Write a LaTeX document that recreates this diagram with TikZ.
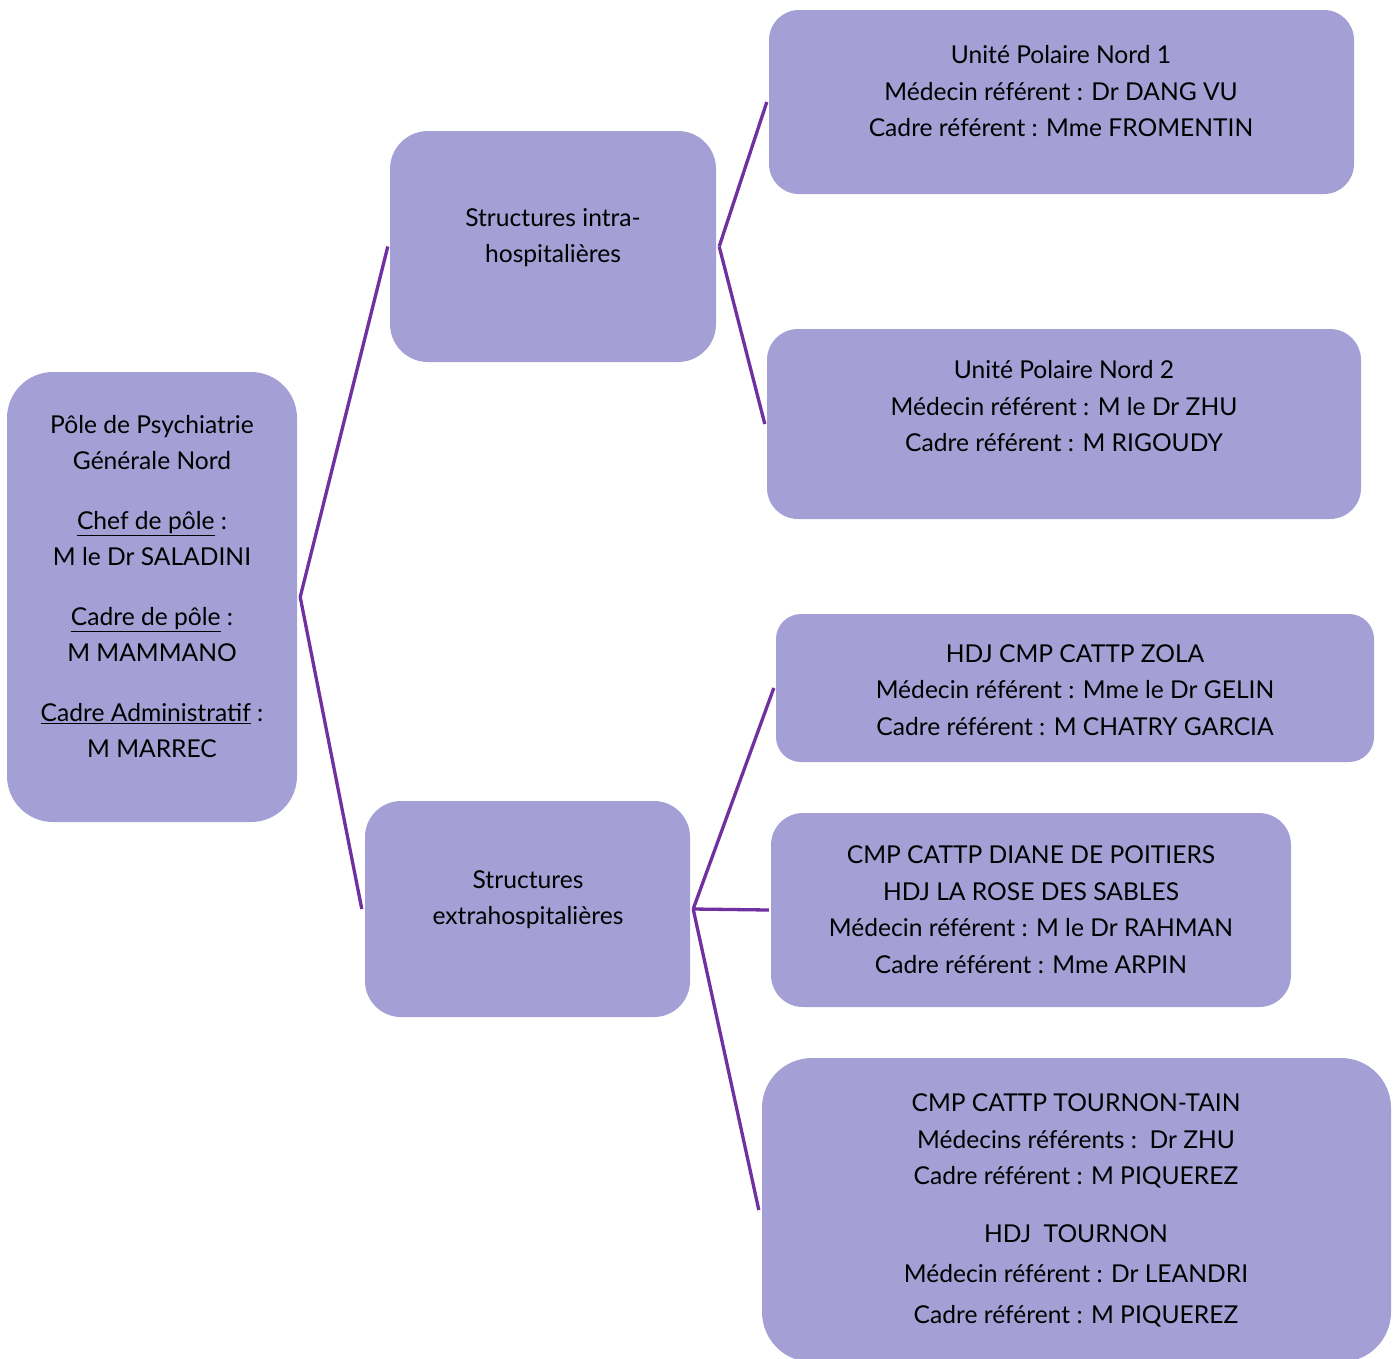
\documentclass[tikz,border=0pt]{standalone}
\usepackage{fontspec}
\setmainfont{Lato}
\definecolor{boxfill}{RGB}{164,159,212}
\definecolor{linkcol}{RGB}{112,48,160}
\tikzset{
  unit/.style={rectangle, fill=boxfill, draw=none, inner sep=0pt},
  label/.style={align=center, inner sep=0pt, font=\fontsize{24.6}{36.5}\selectfont},
  link/.style={draw=linkcol, line width=3.3pt}
}
\begin{document}
\begin{tikzpicture}[x=1pt,y=-1pt]
\useasboundingbox (0,0) rectangle (1399,1358);

% boxes
\node[unit, rounded corners=46pt, minimum width=290pt, minimum height=450pt] (root) at (152,597) {};
\node[unit, rounded corners=38pt, minimum width=326pt, minimum height=231pt] (intra) at (553,246.5) {};
\node[unit, rounded corners=36pt, minimum width=325pt, minimum height=216pt] (extra) at (527.5,909) {};
\node[unit, rounded corners=30pt, minimum width=585pt, minimum height=184pt] (upn1) at (1061.5,102) {};
\node[unit, rounded corners=31pt, minimum width=594pt, minimum height=190pt] (upn2) at (1064,424) {};
\node[unit, rounded corners=25pt, minimum width=598pt, minimum height=148pt] (zola) at (1075,688) {};
\node[unit, rounded corners=32pt, minimum width=520pt, minimum height=194pt] (diane) at (1031,910) {};
\node[unit, rounded corners=50pt, minimum width=629pt, minimum height=304pt] (tournon) at (1076.5,1210) {};

% texts
\node[label] (rootT) at (152,586.5) {Pôle de Psychiatrie\\Générale Nord\\[23pt]
  \underline{Chef de pôle} :\\M le Dr SALADINI\\[23pt]
  \underline{Cadre de pôle} :\\M MAMMANO\\[23pt]
  \underline{Cadre Administratif} :\\M MARREC};
\node[label] (intraT) at (553,237.5) {Structures intra-\\hospitalières};
\node[label] (extraT) at (528,899.5) {Structures\\extrahospitalières};
\node[label] (upn1T) at (1061,91.5) {Unité Polaire Nord 1\\Médecin référent : Dr DANG VU\\Cadre référent : Mme FROMENTIN};
\node[label] (upn2T) at (1064,406.5) {Unité Polaire Nord 2\\Médecin référent : M le Dr ZHU\\Cadre référent : M RIGOUDY};
\node[label] (zolaT) at (1075,690) {HDJ CMP CATTP ZOLA\\Médecin référent : Mme le Dr GELIN\\Cadre référent : M CHATRY GARCIA};
\node[label] (dianeT) at (1031,909.5) {CMP CATTP DIANE DE POITIERS\\HDJ LA ROSE DES SABLES\\Médecin référent : M le Dr RAHMAN\\Cadre référent : Mme ARPIN};
\node[label] (tournonT) at (1076,1210.5) {CMP CATTP TOURNON-TAIN\\Médecins référents :\ \ Dr ZHU\\Cadre référent : M PIQUEREZ\\[21pt]
  HDJ\ \ TOURNON\\[4pt]Médecin référent : Dr LEANDRI\\[4pt]Cadre référent : M PIQUEREZ};

% connectors
\draw[link] ([xshift=3pt]root.east) -- ([xshift=-2pt]intra.west);
\draw[link] ([xshift=3pt]root.east) -- ([xshift=-3pt]extra.west);
\draw[link] ([xshift=3pt]intra.east) -- ([xshift=-2pt]upn1.west);
\draw[link] ([xshift=3pt]intra.east) -- ([xshift=-2pt]upn2.west);
\draw[link] ([xshift=3pt]extra.east) -- ([xshift=-2pt]zola.west);
\draw[link] ([xshift=3pt]extra.east) -- ([xshift=-2pt]diane.west);
\draw[link] ([xshift=3pt]extra.east) -- ([xshift=-3pt]tournon.west);
\end{tikzpicture}
\end{document}
